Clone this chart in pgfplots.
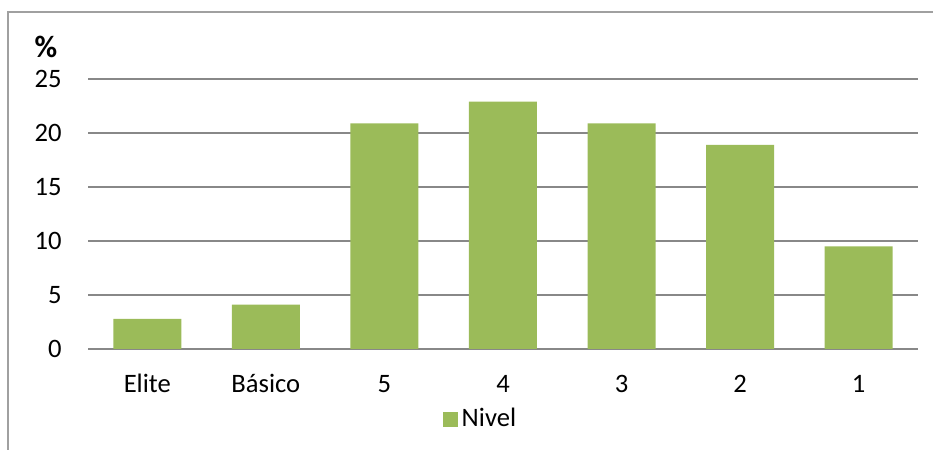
\documentclass[border=0pt]{standalone}
\usepackage{pgfplots}
\pgfplotsset{compat=1.18}
\usepackage{fontspec}
\setmainfont{Carlito}
\definecolor{barverde}{HTML}{9BBB59}
\definecolor{rejilla}{HTML}{888888}
\begin{document}
\fontsize{13.3}{15}\selectfont
\begin{tikzpicture}
\path[use as bounding box] (0,0) rectangle (466.5pt,225pt);
% marco exterior (solo arriba e izquierda)
\draw[rejilla!80, line width=0.8pt] (4pt,0) -- (4pt,219pt) -- (466.5pt,219pt);
\begin{axis}[
    at={(44pt,50.5pt)}, anchor=south west,
    scale only axis,
    width=415pt, height=135pt,
    ybar, bar width=34pt,
    xmin=-0.5, xmax=6.5,
    ymin=0, ymax=25,
    xtick=data,
    xticklabels={Elite, Básico, 5, 4, 3, 2, 1},
    ytick={0,5,10,15,20,25},
    major tick length=0pt,
    axis line style={draw=none},
    ymajorgrids,
    major grid style={rejilla, line width=0.75pt},
    /pgf/number format/assume math mode=true,
    yticklabel style={inner sep=0pt, xshift=-13pt},
    xticklabel style={anchor=base, yshift=-21.5pt},
    legend style={at={(0.474,-0.261)}, anchor=center, draw=none, fill=none,
        inner sep=0pt, font=\fontsize{13.3}{15}\selectfont},
    legend image code/.code={\fill[barverde] (0pt,-3.75pt) rectangle (7.5pt,3.75pt);},
    clip=false,
]
\addplot[fill=barverde, draw=none] coordinates {
    (0,2.8) (1,4.1) (2,20.9) (3,22.9) (4,20.9) (5,18.9) (6,9.5)
};
\addlegendentry{Nivel}
\end{axis}
\node[font=\bfseries\fontsize{15.5}{17}\selectfont, anchor=base] at (23pt,196pt) {\%};
\end{tikzpicture}
\end{document}
